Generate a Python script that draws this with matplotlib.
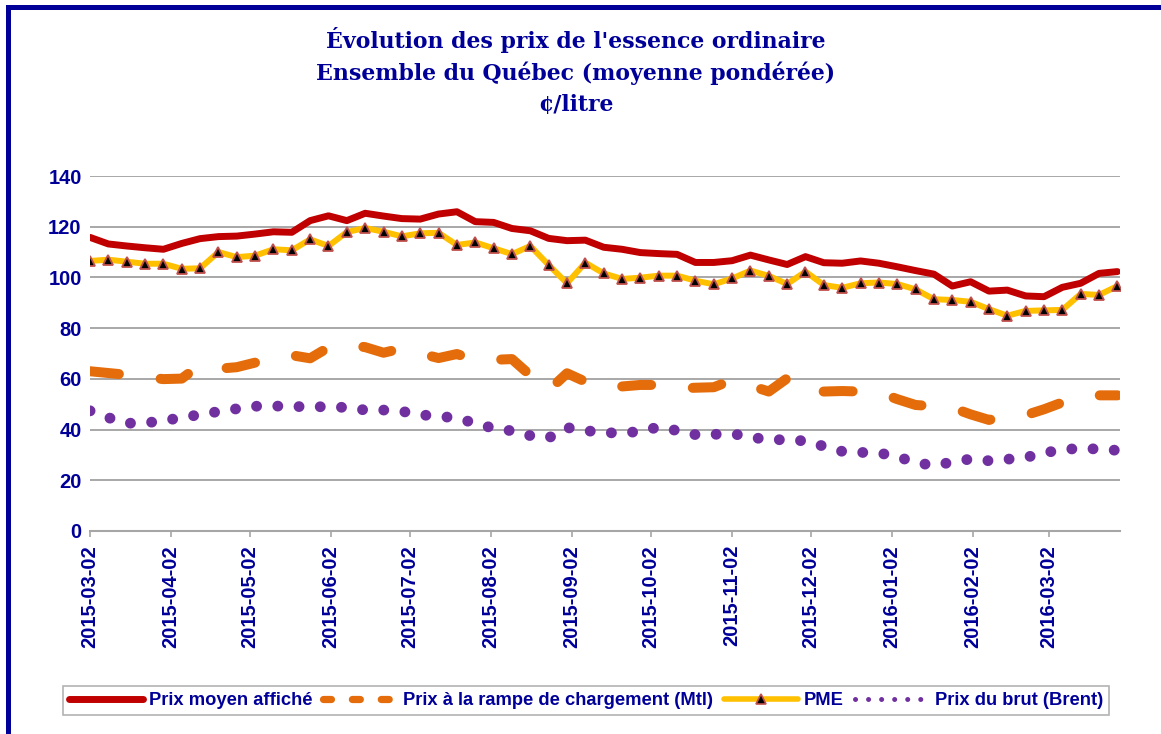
import matplotlib
matplotlib.use("Agg")
import matplotlib.pyplot as plt
from matplotlib.lines import Line2D
import pandas as pd

# weekly observations (Mondays)
dates = pd.date_range("2015-03-02", periods=57, freq="7D")

prix_affiche = [115.8, 113.2, 112.4, 111.7, 111.1, 113.4, 115.3, 116.1, 116.3, 117.1,
                118.0, 117.8, 122.4, 124.3, 122.4, 125.3, 124.2, 123.2, 123.0, 125.0,
                125.9, 122.0, 121.7, 119.3, 118.4, 115.4, 114.5, 114.7, 111.9, 111.1,
                109.8, 109.4, 109.1, 105.9, 105.9, 106.6, 108.8, 106.9, 105.1, 108.2,
                105.8, 105.6, 106.5, 105.6, 104.2, 102.7, 101.3, 96.6, 98.3, 94.6,
                95.0, 92.7, 92.4, 96.1, 97.7, 101.6, 102.3]

prix_rampe = [63.0, 62.3, 61.6, 60.7, 59.9, 60.1, 65.5, 64.0, 64.6, 66.4,
              66.8, 69.3, 68.1, 72.4, 73.5, 72.5, 70.3, 72.0, 70.0, 68.2,
              69.8, 67.3, 67.5, 67.8, 61.4, 55.5, 62.2, 58.9, 56.5, 57.0,
              57.6, 57.6, 56.2, 56.5, 56.7, 59.5, 57.3, 55.0, 60.2, 55.3,
              55.0, 55.2, 55.0, 54.7, 52.0, 49.7, 49.2, 48.6, 46.0, 43.8,
              45.3, 45.7, 48.0, 50.7, 51.0, 53.5, 53.5]

pme = [106.5, 107.0, 106.2, 105.4, 105.4, 103.4, 103.6, 110.0, 108.0, 108.6,
       111.1, 110.7, 115.0, 112.4, 117.9, 119.5, 118.0, 116.2, 117.4, 117.6,
       112.8, 113.8, 111.5, 109.2, 112.4, 104.9, 97.7, 105.8, 101.6, 99.4,
       99.9, 100.7, 100.7, 98.7, 97.3, 99.6, 102.7, 100.6, 97.4, 102.3,
       97.0, 95.9, 97.7, 98.0, 97.4, 95.3, 91.4, 91.1, 90.4, 87.5,
       84.9, 86.8, 87.0, 87.2, 93.5, 93.1, 96.6]

brut = [47.4, 44.7, 42.5, 42.6, 43.5, 44.7, 45.9, 47.1, 48.2, 49.2,
        49.3, 49.1, 49.0, 49.0, 48.7, 47.7, 47.7, 47.2, 45.8, 45.3,
        44.5, 42.5, 40.5, 39.5, 37.6, 36.7, 40.8, 39.6, 38.8, 38.6,
        39.3, 41.0, 39.6, 38.0, 38.1, 38.4, 37.0, 36.0, 36.0, 35.5,
        33.4, 31.4, 31.0, 30.8, 29.3, 27.0, 25.8, 27.2, 28.4, 27.7,
        28.3, 29.0, 30.8, 32.1, 32.6, 32.3, 31.8]

tick_labels = ["2015-03-02", "2015-04-02", "2015-05-02", "2015-06-02", "2015-07-02",
               "2015-08-02", "2015-09-02", "2015-10-02", "2015-11-02", "2015-12-02",
               "2016-01-02", "2016-02-02", "2016-03-02"]

series_names = ["Prix moyen affiché", "Prix à la rampe de chargement (Mtl)",
                "PME", "Prix du brut (Brent)"]

title_lines = ["Évolution des prix de l'essence ordinaire",
               "Ensemble du Québec (moyenne pondérée)",
               "¢/litre"]

NAVY = "#000099"
RED = "#C00000"
ORANGE = "#E46C0A"
YELLOW = "#FFC000"
PURPLE = "#7030A0"

plt.rcParams["font.family"] = ["Liberation Sans", "DejaVu Sans"]
plt.rcParams["font.weight"] = "bold"

W, H = 1161, 734
fig = plt.figure(figsize=(W / 100, H / 100), dpi=100)
ax = fig.add_axes([90 / W, 1 - 531 / H, (1120 - 90) / W, (531 - 176) / H])

ax.plot(dates, brut, color=PURPLE, lw=7.8, dashes=(0.01, 1.95),
        dash_capstyle="round", zorder=2)
ax.plot(dates, prix_rampe, color=ORANGE, lw=7.2, dashes=(2.9, 4.2),
        dash_capstyle="round", zorder=3)
ax.plot(dates, prix_affiche, color=RED, lw=5.0, solid_capstyle="round",
        solid_joinstyle="round", zorder=4)
ax.plot(dates, pme, color=YELLOW, lw=4.3, solid_joinstyle="round",
        marker="^", ms=7, mfc="black", mec="#C0504D", mew=1.3, zorder=5)

ax.set_ylim(0, 140)
ax.set_yticks(range(0, 141, 20))
ax.set_xlim(dates[0], pd.Timestamp("2016-03-29"))
ax.set_xticks(pd.to_datetime(tick_labels))
ax.set_xticklabels(tick_labels, rotation=90, ha="center", va="top")

ax.yaxis.grid(True, color="#999999", lw=1.2)
ax.set_axisbelow(True)
for s in ["left", "top", "right"]:
    ax.spines[s].set_visible(False)
ax.spines["bottom"].set_color("#A6A6A6")
ax.spines["bottom"].set_linewidth(1.5)

ax.tick_params(axis="y", length=0, pad=6, labelsize=14.5, labelcolor=NAVY)
ax.tick_params(axis="x", length=4, width=1.2, color="#A6A6A6", pad=6,
               labelsize=14.5, labelcolor=NAVY)

# title
for line, yb in zip(title_lines, [48, 80, 111]):
    fig.text(575.5 / W, 1 - yb / H, line, ha="center", va="baseline",
             fontsize=15.8, family="DejaVu Serif", weight="bold", color=NAVY)

# legend
handles = [
    Line2D([], [], color=RED, lw=5, solid_capstyle="round"),
    Line2D([], [], color=ORANGE, lw=5.2, dashes=(1.1, 2.9), dash_capstyle="round"),
    Line2D([], [], color=YELLOW, lw=4, marker="^", ms=7, mfc="black",
           mec="#C0504D", mew=1.2, solid_capstyle="round"),
    Line2D([], [], color=PURPLE, lw=3.6, dashes=(0.01, 2.6), dash_capstyle="round"),
]
leg = fig.legend(handles, series_names, loc="center",
                 bbox_to_anchor=(586 / W, 1 - 700.5 / H), ncol=4, frameon=True,
                 fancybox=False, edgecolor="#A0A0A0", fontsize=13.2,
                 handlelength=4, handletextpad=0.35, columnspacing=0.6,
                 borderpad=0.35, borderaxespad=0, numpoints=1)
leg.get_frame().set_linewidth(1.2)
for t in leg.get_texts():
    t.set_color(NAVY)

# outer frame (left and top edges visible)
fig.add_artist(Line2D([7.5 / W, 7.5 / W], [0, 1 - 6.5 / H], transform=fig.transFigure,
                      color=NAVY, lw=3.6, solid_capstyle="projecting"))
fig.add_artist(Line2D([7.5 / W, 1], [1 - 6.5 / H, 1 - 6.5 / H], transform=fig.transFigure,
                      color=NAVY, lw=3.6, solid_capstyle="projecting"))

fig.savefig("out.png", dpi=100)
